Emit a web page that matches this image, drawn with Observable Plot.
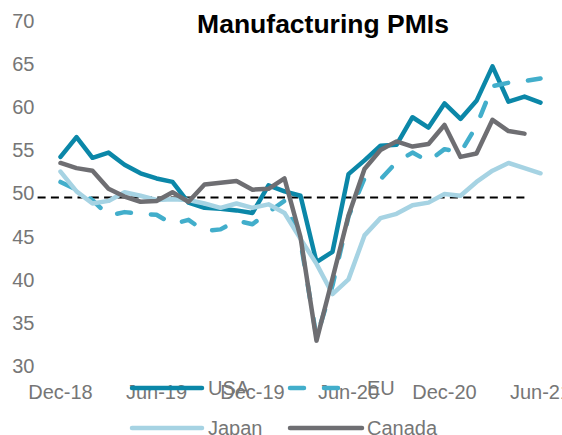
<!DOCTYPE html>
<html>
<head>
<meta charset="utf-8">
<script src="https://cdn.jsdelivr.net/npm/d3@7"></script>
<script src="https://cdn.jsdelivr.net/npm/@observablehq/plot@0.6"></script>
<style>
  html, body { margin: 0; padding: 0; background: #fff; }
  #wrap { position: relative; width: 562px; height: 435px; overflow: hidden; font-family: "Liberation Sans", Arial, sans-serif; }
  #title { position: absolute; top: 11px; left: 323px; transform: translateX(-50%); white-space: nowrap; font-weight: bold; font-size: 26.5px; line-height: 26px; color: #000; }
  .lg { position: absolute; font-size: 20px; line-height: 20px; color: #767676; white-space: nowrap; }
  .sw { position: absolute; }
</style>
</head>
<body>
<div id="wrap">
  <div id="chart"></div>
  <div id="title">Manufacturing PMIs</div>
  <div id="legend"></div>
</div>
<script>
const months = ["Dec-18","Jan-19","Feb-19","Mar-19","Apr-19","May-19","Jun-19","Jul-19","Aug-19","Sep-19","Oct-19","Nov-19","Dec-19",
  "Jan-20","Feb-20","Mar-20","Apr-20","May-20","Jun-20","Jul-20","Aug-20","Sep-20","Oct-20","Nov-20","Dec-20",
  "Jan-21","Feb-21","Mar-21","Apr-21","May-21","Jun-21"];
const tickLabels = ["Dec-18","Jun-19","Dec-19","Jun-20","Dec-20","Jun-21"];
const yTicks = [30,35,40,45,50,55,60,65,70];

const usa = [54.3,56.6,54.2,54.8,53.4,52.4,51.8,51.4,49.0,48.4,48.3,48.1,47.8,
  51.0,50.3,49.8,42.1,43.3,52.3,53.9,55.6,55.7,58.9,57.7,60.5,
  58.7,60.8,64.8,60.7,61.3,60.6];
const eu = [51.4,50.5,49.3,47.5,47.9,47.7,47.6,46.5,47.0,45.7,45.9,46.9,46.5,
  47.9,49.2,44.5,33.4,39.4,47.4,51.8,51.7,53.7,54.8,53.8,55.2,
  54.8,57.9,62.5,62.9,63.1,63.4];
const japan = [52.6,50.3,48.9,49.2,50.2,49.8,49.3,49.4,49.3,48.9,48.4,48.9,48.4,
  48.8,47.8,44.8,41.9,38.4,40.1,45.2,47.2,47.7,48.7,49.0,50.0,
  49.8,51.4,52.7,53.6,53.0,52.4];
const canada = [53.6,53.0,52.7,50.6,49.7,49.1,49.2,50.2,49.1,51.1,51.3,51.5,50.5,
  50.6,51.8,45.0,33.0,40.2,47.5,52.9,55.1,56.1,55.5,55.8,58.0,
  54.3,54.7,58.6,57.3,57.0];

const seriesNames = ["USA","EU","Japan","Canada"];
const seriesColors = ["#0b87a8","#42aecb","#a6d3e3","#6e6e72"];
const euDash = "14,20";

// reference level line (month-index span)
const refLevel = 49.6;
const refStartIndex = -1.4;
const refEndIndex = 29.1;

const toRows = (vals) => vals.map((v, i) => ({i, v}));
const tickIdx = months.map((m, i) => i).filter(i => tickLabels.includes(months[i]));

const lineOpts = (color, extra = {}) => Object.assign({
  x: "i", y: "v", stroke: color, strokeWidth: 4.5,
  strokeLinejoin: "round", strokeLinecap: "round"
}, extra);

const plot = Plot.plot({
  width: 562,
  height: 435,
  marginLeft: 60,
  marginRight: 22,
  marginTop: 21,
  marginBottom: 69,
  style: {fontFamily: "Liberation Sans, Arial, sans-serif", fontSize: "20px", color: "#767676", overflow: "visible"},
  x: {type: "linear", domain: [0, months.length - 1], ticks: tickIdx, tickFormat: i => months[i], tickSize: 0, tickPadding: 18, label: null},
  y: {domain: [30, 70], ticks: yTicks, tickSize: 0, tickPadding: 26, label: null},
  marks: [
    Plot.ruleY([{y: refLevel, x1: refStartIndex, x2: refEndIndex}], {y: "y", x1: "x1", x2: "x2", stroke: "#000", strokeWidth: 2, strokeDasharray: "8,5.3"}),
    Plot.line(toRows(usa), lineOpts(seriesColors[0])),
    Plot.line(toRows(eu), lineOpts(seriesColors[1], {strokeDasharray: euDash})),
    Plot.line(toRows(japan), lineOpts(seriesColors[2])),
    Plot.line(toRows(canada), lineOpts(seriesColors[3]))
  ]
});
document.getElementById("chart").appendChild(plot);

// legend (HTML overlay)
const legendLayout = [
  {sw: 132, swEnd: 202, tx: 208, cy: 388},
  {sw: 290, swEnd: 348, tx: 367, cy: 388, dash: euDash},
  {sw: 132, swEnd: 202, tx: 208, cy: 428},
  {sw: 290, swEnd: 362, tx: 367, cy: 428}
];
const lg = document.getElementById("legend");
seriesNames.forEach((name, k) => {
  const L = legendLayout[k];
  const w = L.swEnd - L.sw + 6;
  const svg = `<svg class="sw" style="left:${L.sw - 3}px;top:${L.cy - 4}px" width="${w}" height="8">
    <line x1="3" x2="${w - 3}" y1="4" y2="4" stroke="${seriesColors[k]}" stroke-width="4.5" stroke-linecap="round" ${L.dash ? `stroke-dasharray="${L.dash}"` : ""}/></svg>`;
  lg.insertAdjacentHTML("beforeend", svg);
  const t = document.createElement("div");
  t.className = "lg";
  t.style.left = L.tx + "px";
  t.style.top = (L.cy - 10) + "px";
  t.textContent = name;
  lg.appendChild(t);
});
</script>
</body>
</html>
